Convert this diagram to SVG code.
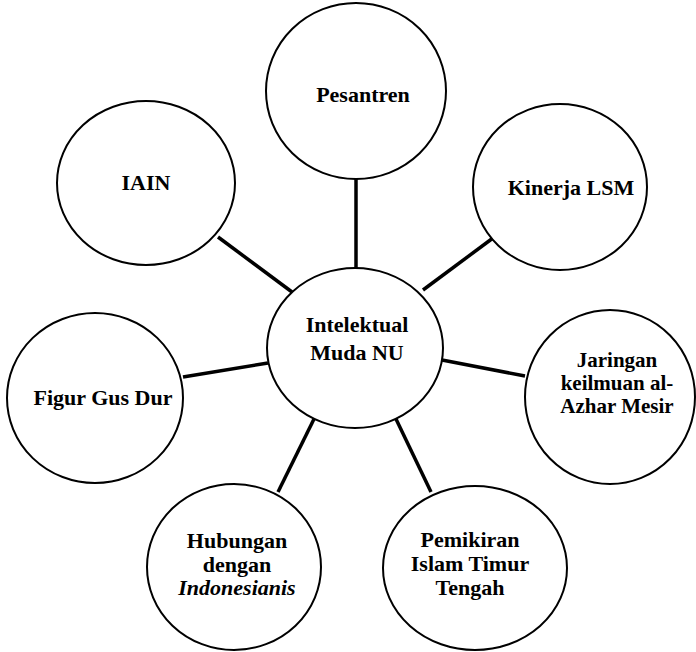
<svg xmlns="http://www.w3.org/2000/svg" width="696" height="652" viewBox="0 0 696 652">
<style>
.c{fill:#fff;stroke:#000;stroke-width:2}
.t{font-family:"Liberation Serif","Times New Roman",serif;font-weight:bold;font-size:22px;fill:#000;text-anchor:middle}
.s{font-size:21px}
.l{stroke:#000;stroke-width:3.5;stroke-linecap:butt}
</style>
<rect width="696" height="652" fill="#fff"/>
<g id="connectors">
<line class="l" x1="356" y1="178" x2="356" y2="269"/>
<line class="l" x1="218" y1="237" x2="292" y2="292"/>
<line class="l" x1="493" y1="238" x2="423" y2="290"/>
<line class="l" x1="183" y1="377" x2="268" y2="363"/>
<line class="l" x1="442" y1="360" x2="525" y2="376"/>
<line class="l" x1="314" y1="419" x2="278" y2="492"/>
<line class="l" x1="396" y1="419" x2="431" y2="492"/>
</g>
<g id="center">
<ellipse class="c" cx="355" cy="348" rx="88" ry="80"/>
<text class="t" x="357" y="332">Intelektual</text>
<text class="t" x="357" y="360">Muda NU</text>
</g>
<g id="pesantren">
<ellipse class="c" cx="356" cy="91" rx="90" ry="88"/>
<text class="t" x="363" y="102">Pesantren</text>
</g>
<g id="iain">
<ellipse class="c" cx="146" cy="183" rx="89" ry="82"/>
<text class="t" x="146" y="190">IAIN</text>
</g>
<g id="kinerja">
<ellipse class="c" cx="560" cy="187" rx="87" ry="83"/>
<text class="t" x="571" y="195">Kinerja LSM</text>
</g>
<g id="figur">
<ellipse class="c" cx="95" cy="398" rx="88" ry="85"/>
<text class="t" x="103" y="405">Figur Gus Dur</text>
</g>
<g id="jaringan">
<ellipse class="c" cx="610" cy="397" rx="85" ry="87"/>
<text class="t s" x="617" y="367">Jaringan</text>
<text class="t s" x="617" y="390">keilmuan al-</text>
<text class="t s" x="617" y="413">Azhar Mesir</text>
</g>
<g id="hubungan">
<ellipse class="c" cx="234" cy="567" rx="87" ry="83"/>
<text class="t" x="237" y="548">Hubungan</text>
<text class="t" x="237" y="572">dengan</text>
<text class="t" x="237" y="595" font-style="italic">Indonesianis</text>
</g>
<g id="pemikiran">
<ellipse class="c" cx="475" cy="568" rx="92" ry="82"/>
<text class="t" x="470" y="547">Pemikiran</text>
<text class="t" x="470" y="571">Islam Timur</text>
<text class="t" x="470" y="595">Tengah</text>
</g>
</svg>
